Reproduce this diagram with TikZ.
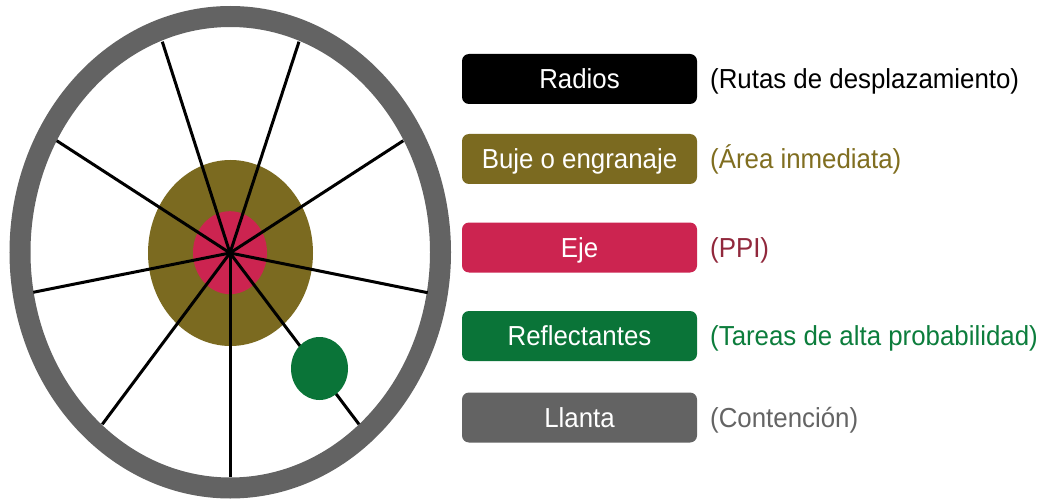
\documentclass[tikz,border=0pt]{standalone}
\usepackage{fontspec}
\setmainfont{Liberation Sans}[FakeStretch=0.94]
\definecolor{rimgray}{RGB}{99,99,99}
\definecolor{hubolive}{RGB}{123,106,32}
\definecolor{axlered}{RGB}{204,36,80}
\definecolor{reflgreen}{RGB}{10,116,56}
\definecolor{ppitext}{RGB}{145,40,60}
\definecolor{areatext}{RGB}{128,110,32}
\definecolor{tareatext}{RGB}{12,125,60}
\definecolor{contgray}{RGB}{100,100,100}
\tikzset{
  legbox/.style={draw=none, rounded corners=7pt, minimum width=235pt, minimum height=50pt,
    inner sep=0pt, text=white, font=\fontsize{27.5}{32}\selectfont, text height=19.5pt, text depth=0pt},
  legtext/.style={anchor=base west, inner sep=0pt, font=\fontsize{27.5}{32}\selectfont},
  spoke/.style={line width=3pt, black}
}
\begin{document}
\begin{tikzpicture}[x=1pt,y=-1pt]
\useasboundingbox[fill=white] (0,0) rectangle (1050,500);
% rim
\draw[rimgray, line width=21pt] (230.25,252.25) ellipse [x radius=210.25, y radius=235.75];
% hub and axle
\fill[hubolive] (230.5,253) ellipse [x radius=82.5, y radius=93];
\fill[axlered] (230,252.7) ellipse [x radius=37, y radius=41.5];
% spokes
\coordinate (hub) at (230,253);
\coordinate (s1) at (162.3,41.7);
\coordinate (s2) at (299,41.7);
\coordinate (s3) at (403.3,140.7);
\coordinate (s4) at (427.7,292.7);
\coordinate (s5) at (359,424.3);
\coordinate (s6) at (230,477.3);
\coordinate (s7) at (102.3,424.3);
\coordinate (s8) at (33.3,292.3);
\coordinate (s9) at (56.7,140.7);
\foreach \s in {s1,s2,s3,s4,s5,s6,s7,s8,s9} \draw[spoke] (hub) -- (\s);
\fill[black] (hub) circle (3pt);
% reflector
\fill[reflgreen] (319.5,368.5) ellipse [x radius=28.5, y radius=31.5];
% legend
\node[legbox, fill=black] (radios) at (579.5,79) {Radios};
\node[legbox, fill=hubolive] (buje) at (579.5,159) {Buje o engranaje};
\node[legbox, fill=axlered] (eje) at (579.5,247.5) {Eje};
\node[legbox, fill=reflgreen] (refl) at (579.5,336) {Reflectantes};
\node[legbox, fill=rimgray] (llanta) at (579.5,417.5) {Llanta};
\node[legtext, text=black] (t1) at (710,88.5) {(Rutas de desplazamiento)};
\node[legtext, text=areatext] (t2) at (710,168.5) {(Área inmediata)};
\node[legtext, text=ppitext] (t3) at (710,257) {(PPI)};
\node[legtext, text=tareatext] (t4) at (710,345.5) {(Tareas de alta probabilidad)};
\node[legtext, text=contgray] (t5) at (710,427) {(Contención)};
\end{tikzpicture}
\end{document}
